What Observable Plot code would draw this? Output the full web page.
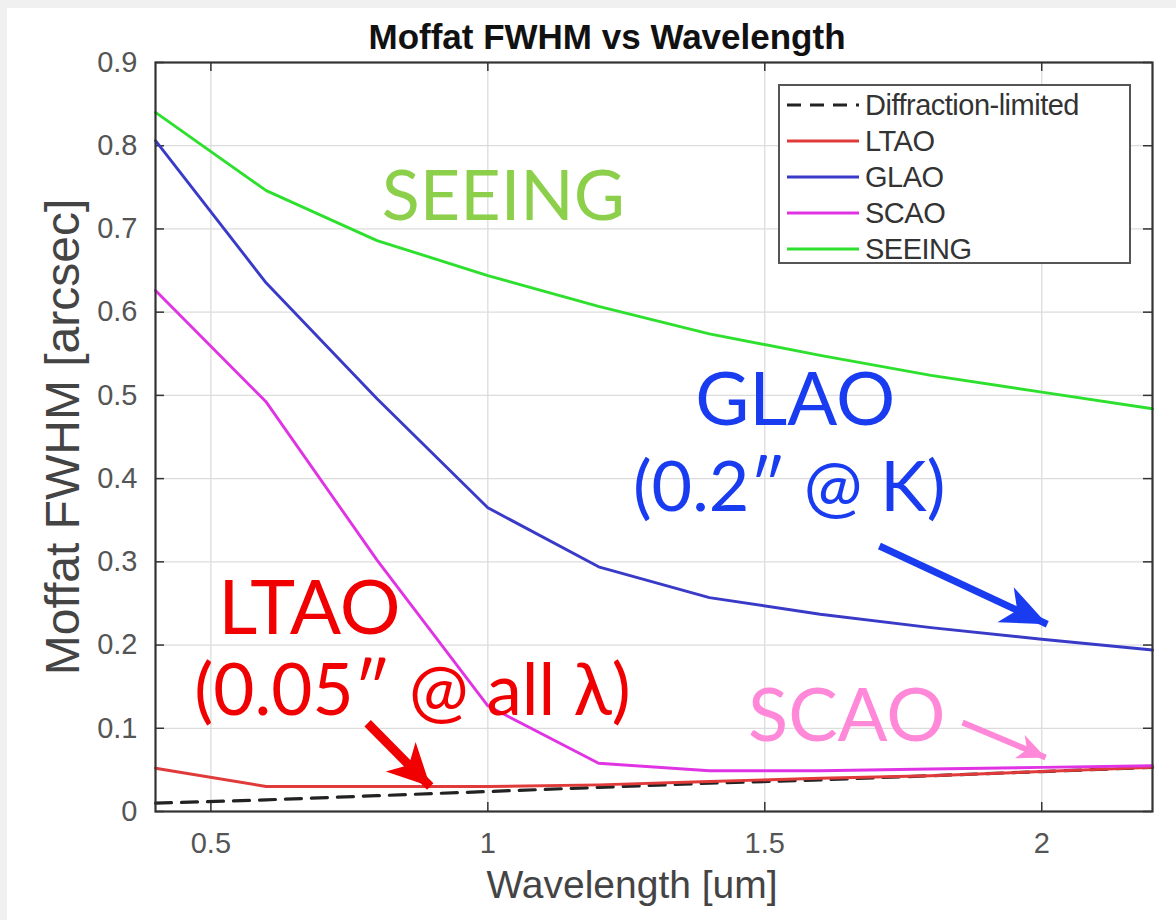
<!DOCTYPE html>
<html>
<head>
<meta charset="utf-8">
<script src="https://cdn.jsdelivr.net/npm/d3@7"></script>
<script src="https://cdn.jsdelivr.net/npm/@observablehq/plot@0.6"></script>
<style>
  html, body { margin: 0; padding: 0; background: #f0f0f0; }
  #wrap { position: absolute; left: 7px; top: 8px; width: 1169px; height: 912px; background: #fff; overflow: hidden; }
  #legend { position: absolute; left: 771px; top: 76px; width: 349px; height: 176px;
            border: 2px solid #555; background: #fff;
            font-family: "Liberation Sans", Arial, sans-serif; font-size: 29px; color: #333; }
  #legend .row { position: absolute; left: 0; height: 36px; display: flex; align-items: center; }
  #legend svg { display: block; }
  #legend span { margin-left: 1px; letter-spacing: -0.5px; }
</style>
</head>
<body>
<div id="wrap"><div id="chart"></div><div id="legend"></div></div>
<script>
// Wavelength samples [um] and Moffat FWHM [arcsec] for each correction mode
const wavelength  = [0.4, 0.6, 0.8, 1.0, 1.2, 1.4, 1.6, 1.8, 2.0, 2.2];
const diffraction = [0.010, 0.014, 0.019, 0.024, 0.029, 0.034, 0.038, 0.043, 0.048, 0.053];
const ltao        = [0.052, 0.030, 0.030, 0.030, 0.032, 0.036, 0.040, 0.043, 0.048, 0.053];
const glao        = [0.806, 0.635, 0.496, 0.365, 0.294, 0.257, 0.237, 0.221, 0.207, 0.194];
const scao        = [0.626, 0.492, 0.302, 0.127, 0.058, 0.049, 0.049, 0.051, 0.053, 0.055];
const seeing      = [0.840, 0.746, 0.686, 0.644, 0.607, 0.574, 0.548, 0.524, 0.504, 0.484];

const seriesNames  = ["Diffraction-limited", "LTAO", "GLAO", "SCAO", "SEEING"];
const seriesValues = [diffraction, ltao, glao, scao, seeing];
const seriesColors = ["#222222", "#e03a3a", "#3a3ac8", "#e034e4", "#2ee02e"];

const xTicks = [0.5, 1, 1.5, 2];
const yTicks = [0, 0.1, 0.2, 0.3, 0.4, 0.5, 0.6, 0.7, 0.8, 0.9];

// Long-format table for the line marks
const rows = seriesNames.flatMap((name, i) =>
  wavelength.map((w, j) => ({series: name, wavelength: w, fwhm: seriesValues[i][j]})));

// Layout
const W = 1169, H = 912;
const M = {top: 54, right: 24, bottom: 109, left: 148};
const xDomain = [0.4, 2.2], yDomain = [0, 0.9];
const plotW = W - M.left - M.right, plotH = H - M.top - M.bottom;
const kx = plotW / (xDomain[1] - xDomain[0]);
const ky = plotH / (yDomain[1] - yDomain[0]);

const valueAt = (arr, w) => arr[wavelength.indexOf(w)];

// Callout text
const annotations = [
  {text: "SEEING",           x: 1.028, y: 0.738, color: "#8ccf4a", size: 70},
  {text: "GLAO",             x: 1.555, y: 0.493, color: "#1a3cf0", size: 74},
  {text: "(0.2\u2033 @ K)",  x: 1.544, y: 0.388, color: "#1a3cf0", size: 70},
  {text: "LTAO",             x: 0.678, y: 0.243, color: "#f00000", size: 76},
  {text: "(0.05\u2033 @ all \u03bb)", x: 0.864, y: 0.143, color: "#f00000", size: 71},
  {text: "SCAO",             x: 1.648, y: 0.113, color: "#ff88d8", size: 74}
];

// Callout arrows, each pointing at a curve
const arrows = [
  {x1: 1.707, y1: 0.319, x2: 2.01, y2: valueAt(glao, 2.0) + 0.018, color: "#1a3cf0", width: 7, head: 46, spread: 0.42},
  {x1: 0.783, y1: 0.106, x2: 0.896, y2: valueAt(ltao, 0.8),          color: "#f00000", width: 9, head: 42, spread: 0.5},
  {x1: 1.857, y1: 0.107, x2: 2.007, y2: valueAt(scao, 2.0) + 0.012,  color: "#ff88d8", width: 6, head: 28, spread: 0.45}
];

// Swept-back filled arrowhead, tip at the origin pointing along +x
const barb = spread => ({
  draw(context, size) {
    const L = Math.sqrt(size / Math.PI);
    context.moveTo(0, 0);
    context.lineTo(-L, -L * spread);
    context.lineTo(-L * 0.72, 0);
    context.lineTo(-L, L * spread);
    context.closePath();
  }
});

const arrowMarks = arrows.flatMap(a => {
  const angle = Math.atan2((a.y1 - a.y2) * ky, (a.x2 - a.x1) * kx) * 180 / Math.PI;
  return [
    Plot.link([a], {x1: "x1", y1: "y1", x2: "x2", y2: "y2", stroke: a.color, strokeWidth: a.width}),
    Plot.dot([a], {x: "x2", y: "y2", r: a.head, symbol: barb(a.spread), fill: a.color, stroke: "none", rotate: angle})
  ];
});

const annotationMarks = annotations.map(a =>
  Plot.text([a], {x: "x", y: "y", text: "text", fill: a.color,
    fontFamily: "Lato, 'Open Sans', sans-serif", fontSize: a.size, textAnchor: "middle", lineAnchor: "middle"}));

const chart = Plot.plot({
  width: W, height: H,
  marginTop: M.top, marginRight: M.right, marginBottom: M.bottom, marginLeft: M.left,
  style: {fontFamily: "'Liberation Sans', Arial, sans-serif", background: "transparent", color: "#555"},
  x: {domain: xDomain},
  y: {domain: yDomain},
  color: {domain: seriesNames, range: seriesColors},
  marks: [
    Plot.gridX(xTicks, {stroke: "#dcdcdc", strokeOpacity: 1, strokeWidth: 1.3}),
    Plot.gridY(yTicks.slice(1, -1), {stroke: "#dcdcdc", strokeOpacity: 1, strokeWidth: 1.3}),
    // inward tick marks on all four sides
    Plot.tickX(xTicks, {x: d => d, insetTop: plotH - 9, stroke: "#333", strokeWidth: 1.5}),
    Plot.tickX(xTicks, {x: d => d, insetBottom: plotH - 9, stroke: "#333", strokeWidth: 1.5}),
    Plot.tickY(yTicks, {y: d => d, insetRight: plotW - 9, stroke: "#333", strokeWidth: 1.5}),
    Plot.tickY(yTicks, {y: d => d, insetLeft: plotW - 9, stroke: "#333", strokeWidth: 1.5}),
    Plot.axisX(xTicks, {tickSize: 0, tickPadding: 21, fontSize: 29, label: null, tickFormat: d => String(d)}),
    Plot.axisY(yTicks, {tickSize: 0, tickPadding: 18, fontSize: 29, label: null, tickFormat: d => String(d)}),
    Plot.line(rows.filter(d => d.series === "Diffraction-limited"),
      {x: "wavelength", y: "fwhm", stroke: "series", strokeWidth: 3.2, strokeDasharray: "16,10"}),
    Plot.line(rows.filter(d => d.series !== "Diffraction-limited"),
      {x: "wavelength", y: "fwhm", z: "series", stroke: "series", strokeWidth: 2.9}),
    Plot.frame({stroke: "#333", strokeWidth: 2.2}),
    ...arrowMarks,
    ...annotationMarks,
    Plot.text(["Moffat FWHM vs Wavelength"], {frameAnchor: "top", dx: -47, dy: -14, lineAnchor: "bottom",
      fontSize: 35, fontWeight: "bold", fill: "#111"}),
    Plot.text(["Wavelength [um]"], {frameAnchor: "bottom", dx: -22, dy: 74, lineAnchor: "middle",
      fontSize: 39, fill: "#444"}),
    Plot.text(["Moffat FWHM [arcsec]"], {frameAnchor: "left", dx: -92, rotate: -90, textAnchor: "middle",
      lineAnchor: "middle", fontSize: 48, fill: "#444"})
  ]
});
document.getElementById("chart").appendChild(chart);

// Legend box
const legend = document.getElementById("legend");
seriesNames.forEach((name, i) => {
  const row = document.createElement("div");
  row.className = "row";
  row.style.top = (1 + i * 36) + "px";
  const dash = i === 0 ? ' stroke-dasharray="14,9"' : "";
  row.innerHTML = `<svg width="84" height="36"><line x1="7" x2="79" y1="18" y2="18" stroke="${seriesColors[i]}" stroke-width="3.2"${dash}/></svg><span>${name}</span>`;
  legend.appendChild(row);
});
</script>
</body>
</html>
